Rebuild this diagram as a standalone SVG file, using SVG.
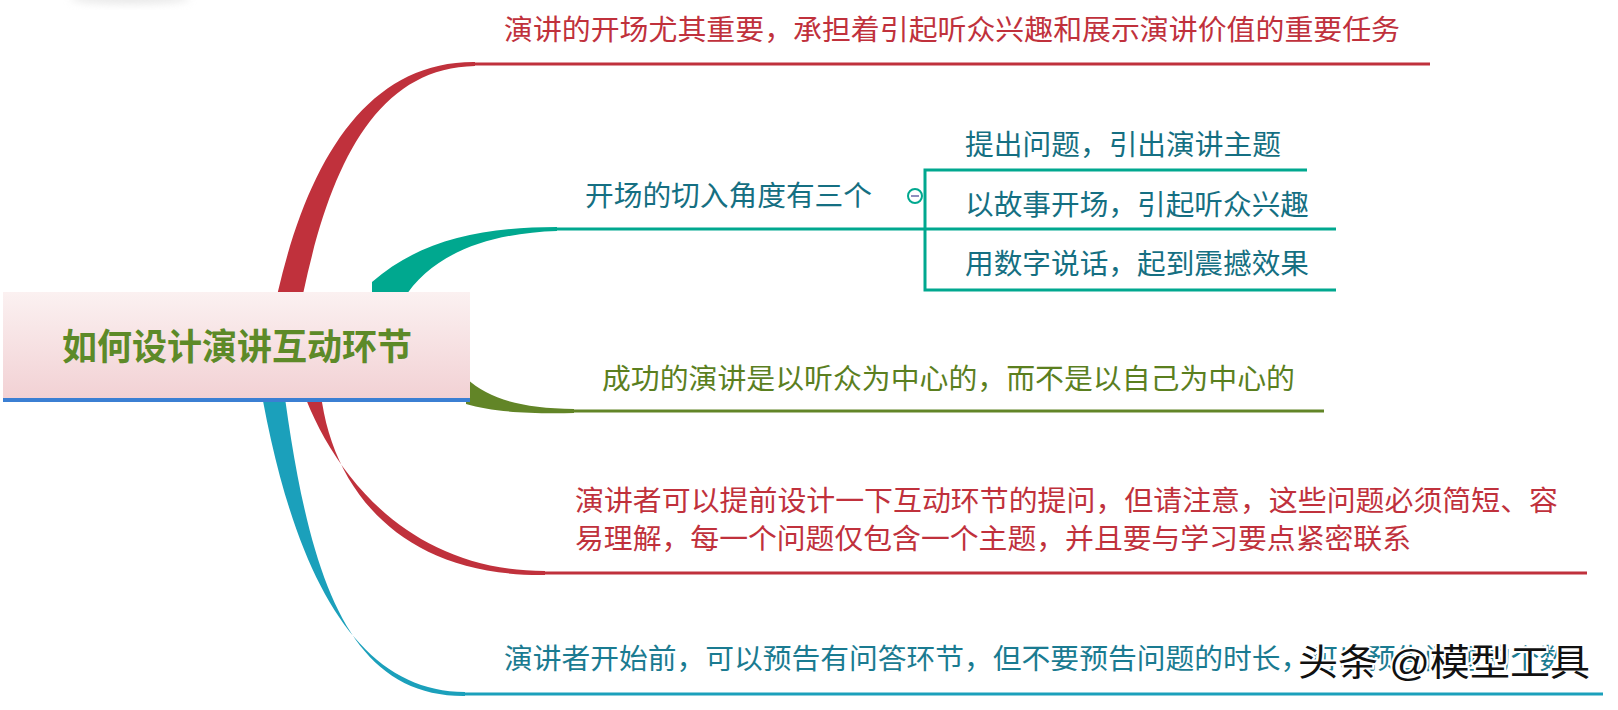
<svg xmlns="http://www.w3.org/2000/svg" width="1618" height="710" viewBox="0 0 1618 710">
<defs>
<linearGradient id="boxg" x1="0" y1="0" x2="0" y2="1">
<stop offset="0" stop-color="#fbf1f1"/>
<stop offset="1" stop-color="#f2d1d4"/>
</linearGradient>
<filter id="blur" x="-50%" y="-50%" width="200%" height="200%"><feGaussianBlur stdDeviation="4"/></filter>
<style>
.t{font-family:"Liberation Sans","Noto Sans CJK SC",sans-serif;font-size:28px}
.red{fill:#c0313c}
.tealtx{fill:#156f82}
.green{fill:#5b7f1f}
.blue{fill:#1a7b91}
.ln{fill:none;stroke-width:3}
</style>
</defs>
<rect width="1618" height="710" fill="#ffffff"/>
<ellipse cx="130" cy="-2" rx="60" ry="6" fill="#d8d8d8" filter="url(#blur)" opacity="0.6"/>

<g id="connectors">
<!-- top red branch -->
<path d="M270 330 C298 178 358 61 475 62 L475 66 C366 68 322 186 296 330 Z" fill="#c0313c"/>
<line class="ln" x1="474" y1="64" x2="1430" y2="64" stroke="#c0313c"/>
<!-- teal branch -->
<path d="M372 300 L372 282 C420 240 482 227 557 227 L557 231 C492 233 432 252 403 300 Z" fill="#00a88f"/>
<line class="ln" x1="556" y1="229" x2="925" y2="229" stroke="#00a88f"/>
<path class="ln" d="M1307 170 L925 170 L925 290 L1336 290 M925 229 L1336 229" stroke="#00a88f"/>
<!-- green branch -->
<path d="M466 378 C490 400 522 408 574 409 L574 413 C520 414 490 411 466 404 Z" fill="#628527"/>
<line class="ln" x1="573" y1="411" x2="1324" y2="411" stroke="#628527"/>
<!-- lower red branch -->
<path d="M293 360 C318 455 395 571 545 571 L545 575 C385 577 318 470 319 360 Z" fill="#c0313c"/>
<line class="ln" x1="544" y1="573" x2="1587" y2="573" stroke="#c0313c"/>
<!-- bottom blue branch -->
<path d="M256 360 C288 565 352 692 465 692 L465 696 C340 697 305 560 280 360 Z" fill="#1ba0bb"/>
<line class="ln" x1="464" y1="694" x2="1603" y2="694" stroke="#1ba0bb"/>
</g>

<g id="root">
<rect x="3" y="292" width="467" height="107" fill="url(#boxg)"/>
<rect x="3" y="398" width="467" height="4" fill="#3b7fd3"/>
<text x="62" y="360" font-family="'Liberation Serif','Noto Sans CJK SC',serif" font-size="36" font-weight="bold" fill="#5d8a28" textLength="350" lengthAdjust="spacingAndGlyphs">如何设计演讲互动环节</text>
</g>

<g id="n1">
<text class="t red" x="504" y="40" textLength="896" lengthAdjust="spacingAndGlyphs">演讲的开场尤其重要，承担着引起听众兴趣和展示演讲价值的重要任务</text>
</g>

<g id="n2">
<text class="t tealtx" x="585" y="206" textLength="287" lengthAdjust="spacingAndGlyphs">开场的切入角度有三个</text>
<circle cx="915" cy="196" r="7" fill="#ffffff" stroke="#00a88f" stroke-width="2"/>
<line x1="911" y1="196" x2="919" y2="196" stroke="#6a6aa8" stroke-width="1.5"/>
</g>

<g id="n2a">
<text class="t tealtx" x="965" y="155" textLength="316" lengthAdjust="spacingAndGlyphs">提出问题，引出演讲主题</text>
</g>
<g id="n2b">
<text class="t tealtx" x="965" y="215" textLength="344" lengthAdjust="spacingAndGlyphs">以故事开场，引起听众兴趣</text>
</g>
<g id="n2c">
<text class="t tealtx" x="965" y="274" textLength="344" lengthAdjust="spacingAndGlyphs">用数字说话，起到震撼效果</text>
</g>

<g id="n3">
<text class="t green" x="602" y="389" textLength="693" lengthAdjust="spacingAndGlyphs">成功的演讲是以听众为中心的，而不是以自己为中心的</text>
</g>

<g id="n4">
<text class="t red" x="575" y="511" textLength="983" lengthAdjust="spacingAndGlyphs">演讲者可以提前设计一下互动环节的提问，但请注意，这些问题必须简短、容</text>
<text class="t red" x="575" y="549" textLength="836" lengthAdjust="spacingAndGlyphs">易理解，每一个问题仅包含一个主题，并且要与学习要点紧密联系</text>
</g>

<g id="n5">
<text class="t blue" x="504" y="669" textLength="1064" lengthAdjust="spacingAndGlyphs">演讲者开始前，可以预告有问答环节，但不要预告问题的时长，可以预告问题的个数</text>
</g>

<g id="watermark">
<text x="1298" y="676" font-family="'Liberation Sans','Noto Sans CJK SC',sans-serif" font-size="37" fill="#111111" stroke="#ffffff" stroke-width="4" paint-order="stroke" textLength="292" lengthAdjust="spacingAndGlyphs">头条 @模型工具</text>
</g>
</svg>
